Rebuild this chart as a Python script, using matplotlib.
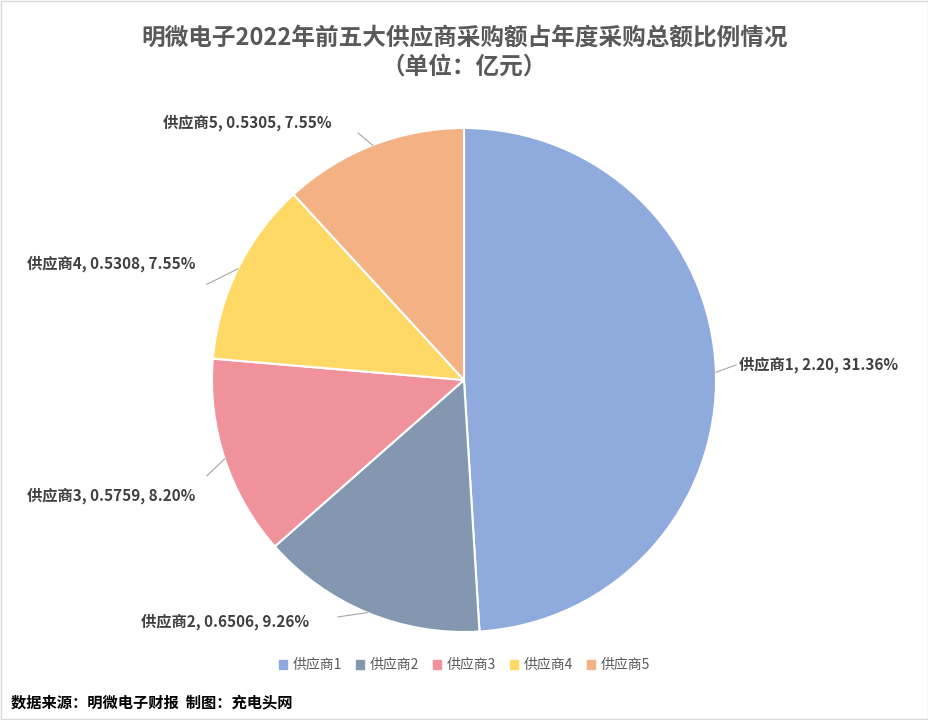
import matplotlib
matplotlib.use("Agg")
import matplotlib.pyplot as plt
import numpy as np

plt.rcParams["font.family"] = ["Noto Sans CJK SC", "DejaVu Sans"]

suppliers = ["供应商1", "供应商2", "供应商3", "供应商4", "供应商5"]
amounts = [2.20, 0.6506, 0.5759, 0.5308, 0.5305]
amount_text = ["2.20", "0.6506", "0.5759", "0.5308", "0.5305"]
pct_text = ["31.36%", "9.26%", "8.20%", "7.55%", "7.55%"]
colors = ["#8FAADC", "#8497B0", "#EF929B", "#FFD966", "#F4B183"]

# label positions in pie-radius units (layout only)
label_pos = [(1.09, 0.06), (-0.95, -0.96), (-1.40, -0.46), (-1.40, 0.46), (-0.86, 1.02)]
label_ha = ["left", "center", "center", "center", "center"]

W, H, R = 929, 720, 252
cx, cy = 464, 380
xl, yl = 1.8, 1.4
fig = plt.figure(figsize=(W / 100, H / 100), dpi=100)
ax = fig.add_axes([(cx - R * xl) / W, (H - cy - R * yl) / H, 2 * R * xl / W, 2 * R * yl / H])

wedges, _ = ax.pie(amounts, colors=colors, startangle=90, counterclock=False,
                   wedgeprops=dict(edgecolor="white", linewidth=1.5), radius=1)
ax.set_xlim(-xl, xl)
ax.set_ylim(-yl, yl)
ax.set_aspect("equal")
ax.axis("off")

for w, name, a, p, pos, ha in zip(wedges, suppliers, amount_text, pct_text, label_pos, label_ha):
    ang = np.deg2rad((w.theta1 + w.theta2) / 2)
    ex, ey = np.cos(ang), np.sin(ang)
    tx, ty = pos
    ax.text(tx, ty, f"{name}, {a}, {p}", ha=ha, va="center", fontsize=11,
            fontweight="bold", color="#404040")
    # leader line from wedge edge toward label
    if ha == "left":
        lx, ly = tx - 0.01, ty
    elif ty > 0.8:
        lx, ly = tx + 0.44, ty - 0.04
    elif ty < -0.8:
        lx, ly = tx + 0.45, ty + 0.02
    else:
        lx, ly = tx + 0.38, ty + (0.08 if ty < 0 else -0.08)
    ax.plot([ex * 1.0, lx], [ey * 1.0, ly], color="#A6A6A6", lw=0.8, clip_on=False)

fig.text(0.5, 0.965, "明微电子2022年前五大供应商采购额占年度采购总额比例情况\n（单位：亿元）",
         ha="center", va="top", fontsize=17, fontweight="bold", color="#595959",
         linespacing=1.3)

handles = [plt.Rectangle((0, 0), 1, 1, color=c) for c in colors]
fig.legend(handles, suppliers, loc="center", bbox_to_anchor=(0.5, 1 - 665 / H), ncol=5,
           frameon=False, fontsize=10, handlelength=0.6, handleheight=0.6,
           columnspacing=1.0, handletextpad=0.4, labelcolor="#595959")

fig.text(0.012, 1 - 702 / H, "数据来源：明微电子财报  制图：充电头网", ha="left", va="center",
         fontsize=11, fontweight="bold", color="black")

fig.patches.append(plt.Rectangle((0.001, 0.001), 0.998, 0.998, transform=fig.transFigure,
                                 fill=False, edgecolor="#D9D9D9", lw=1))
fig.savefig("out.png", dpi=100)
